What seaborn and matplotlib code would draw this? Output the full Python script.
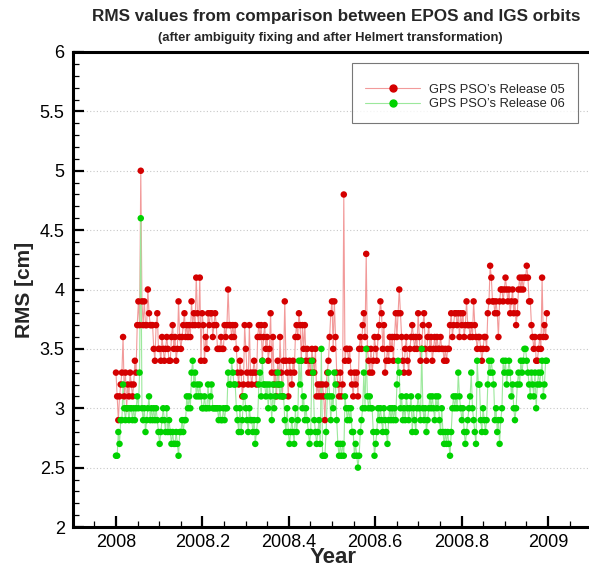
import numpy as np
import pandas as pd
import matplotlib
matplotlib.use("Agg")
import matplotlib.pyplot as plt
from matplotlib.lines import Line2D
from matplotlib.ticker import MultipleLocator
import seaborn as sns

# Daily RMS values [cm] for 2008, one list per month
rel05_jan = [3.3, 3.1, 2.9, 3.1, 3.2, 3.3, 3.6, 3.1, 3.3, 3.0, 3.2, 3.1, 3.3, 3.2, 3.1, 3.2,
             3.4, 3.3, 3.7, 3.9, 3.7, 5.0, 3.9, 3.7, 3.9, 3.7, 3.7, 4.0, 3.8, 3.7, 3.7]
rel05_feb = [3.7, 3.5, 3.4, 3.7, 3.8, 3.5, 3.5, 3.4, 3.6, 3.5, 3.4, 3.5, 3.6, 3.5, 3.4, 3.4,
             3.6, 3.7, 3.5, 3.6, 3.4, 3.5, 3.9, 3.6, 3.5, 3.6, 3.7, 3.8, 3.6]
rel05_mar = [3.7, 3.6, 3.7, 3.6, 3.9, 3.7, 3.8, 3.7, 4.1, 3.8, 3.7, 4.1, 3.4, 3.8, 3.7, 3.4,
             3.6, 3.5, 3.8, 3.7, 3.8, 3.8, 3.6, 3.7, 3.8, 3.7, 3.5, 3.5, 3.5, 3.6, 3.5]
rel05_apr = [3.5, 3.7, 3.6, 3.7, 4.0, 3.7, 3.7, 3.6, 3.7, 3.6, 3.7, 3.5, 3.3, 3.2, 3.4, 3.3,
             3.1, 3.2, 3.7, 3.5, 3.3, 3.2, 3.7, 3.3, 3.2, 3.3, 3.4, 3.3, 3.2, 3.6]
rel05_may = [3.7, 3.6, 3.7, 3.4, 3.6, 3.7, 3.5, 3.6, 3.4, 3.5, 3.8, 3.3, 3.6, 3.2, 3.3, 3.1,
             3.4, 3.2, 3.6, 3.3, 3.1, 3.4, 3.9, 3.4, 3.3, 3.1, 3.4, 3.3, 3.2, 3.4, 3.3]
rel05_jun = [3.6, 3.7, 3.6, 3.8, 3.7, 3.4, 3.7, 3.5, 3.7, 3.4, 3.5, 3.3, 3.4, 3.3, 3.5, 3.4,
             3.3, 3.5, 3.1, 3.2, 3.1, 3.2, 3.1, 3.2, 3.1, 2.9, 3.2, 3.3, 3.4, 3.6]
rel05_jul = [3.8, 3.9, 3.5, 3.9, 3.6, 3.3, 3.2, 3.1, 3.3, 3.1, 3.2, 4.8, 3.4, 3.5, 3.5, 3.4,
             3.5, 3.3, 3.2, 3.1, 3.3, 3.2, 3.3, 3.1, 3.5, 3.6, 3.5, 3.7, 3.8, 3.6, 4.3]
rel05_aug = [3.5, 3.4, 3.3, 3.5, 3.3, 3.4, 3.6, 3.5, 3.4, 3.6, 3.7, 3.9, 3.8, 3.5, 3.7, 3.3,
             3.4, 3.5, 3.4, 3.6, 3.5, 3.6, 3.4, 3.6, 3.8, 3.6, 3.8, 4.0, 3.8, 3.6, 3.4]
rel05_sep = [3.3, 3.5, 3.6, 3.4, 3.3, 3.5, 3.6, 3.7, 3.6, 3.5, 3.6, 3.5, 3.8, 3.6, 3.4, 3.5,
             3.7, 3.8, 3.5, 3.4, 3.6, 3.7, 3.5, 3.6, 3.4, 3.5, 3.6, 3.5, 3.6, 3.5]
rel05_oct = [3.5, 3.6, 3.5, 3.5, 3.4, 3.5, 3.4, 3.5, 3.5, 3.7, 3.8, 3.6, 3.7, 3.8, 3.8, 3.7,
             3.8, 3.6, 3.8, 3.7, 3.8, 3.6, 3.7, 3.9, 3.7, 3.7, 3.6, 3.7, 3.6, 3.9, 3.7]
rel05_nov = [3.6, 3.5, 3.6, 3.6, 3.5, 3.4, 3.5, 3.6, 3.6, 3.5, 3.8, 3.9, 4.2, 4.1, 3.9, 3.9,
             3.8, 3.9, 3.8, 3.6, 3.9, 4.0, 4.0, 3.9, 4.0, 4.1, 4.0, 3.9, 4.0, 3.8]
rel05_dec = [3.9, 4.0, 3.8, 3.9, 3.7, 3.8, 4.0, 4.1, 4.0, 4.1, 4.0, 4.1, 4.1, 4.2, 4.1, 3.9,
             3.9, 3.7, 3.6, 3.5, 3.6, 3.4, 3.4, 3.5, 3.6, 3.5, 4.1, 3.6, 3.7, 3.6, 3.8]

rel06_jan = [2.6, 2.6, 2.8, 2.7, 2.9, 2.9, 3.2, 3.0, 2.9, 3.0, 3.0, 2.9, 3.0, 3.0, 2.9, 3.0,
             2.9, 3.0, 3.1, 3.0, 3.3, 4.6, 3.0, 2.9, 3.0, 2.8, 2.9, 3.0, 3.1, 2.9, 3.0]
rel06_feb = [2.9, 3.0, 2.9, 3.0, 2.9, 2.8, 2.7, 2.8, 2.9, 3.0, 2.9, 2.8, 3.0, 2.8, 2.9, 2.8,
             2.7, 2.8, 2.7, 2.7, 2.8, 2.7, 2.6, 2.8, 2.8, 2.9, 2.8, 2.9, 2.9]
rel06_mar = [3.1, 3.0, 3.1, 3.0, 3.3, 3.4, 3.2, 3.3, 3.1, 3.2, 3.1, 3.2, 3.1, 3.0, 3.0, 3.1,
             3.0, 3.0, 3.2, 3.0, 3.1, 3.2, 3.0, 3.0, 3.0, 3.0, 3.0, 2.9, 3.0, 2.9, 2.9]
rel06_apr = [3.0, 2.9, 3.0, 3.0, 3.3, 3.2, 3.2, 3.4, 3.3, 3.2, 3.2, 3.0, 2.9, 2.8, 3.0, 2.8,
             2.9, 3.1, 3.1, 3.0, 2.9, 2.8, 3.0, 2.9, 2.9, 2.8, 2.9, 2.7, 2.8, 2.9]
rel06_may = [3.2, 3.3, 3.1, 3.4, 3.2, 3.2, 3.1, 3.2, 3.0, 3.2, 3.1, 2.9, 3.2, 3.0, 3.1, 3.2,
             3.3, 3.2, 3.1, 3.2, 3.1, 3.1, 2.9, 2.8, 3.0, 2.8, 2.7, 2.8, 2.9, 2.8, 2.7]
rel06_jun = [3.0, 2.8, 2.9, 3.4, 3.2, 3.4, 3.0, 3.1, 2.9, 3.0, 2.9, 2.8, 2.7, 2.8, 3.4, 3.3,
             2.9, 2.8, 2.7, 2.8, 2.9, 2.7, 3.5, 2.6, 2.6, 2.6, 2.8, 3.1, 3.3, 3.1]
rel06_jul = [2.9, 3.1, 3.0, 3.3, 3.2, 2.9, 2.7, 2.6, 2.7, 2.6, 2.7, 2.6, 3.1, 3.0, 2.9, 3.0,
             2.9, 3.0, 2.8, 2.8, 2.6, 2.7, 2.6, 2.5, 2.6, 2.8, 2.9, 3.0, 3.3, 3.0, 3.5]
rel06_aug = [3.1, 3.0, 3.1, 3.0, 3.0, 2.8, 2.6, 2.7, 2.8, 3.0, 2.9, 3.0, 2.9, 2.8, 3.0, 2.9,
             2.8, 2.7, 2.9, 3.0, 2.9, 3.0, 2.9, 3.0, 2.9, 3.2, 3.4, 3.3, 3.0, 3.1, 2.9]
rel06_sep = [3.0, 2.9, 3.1, 3.0, 2.9, 3.0, 3.1, 2.8, 3.0, 2.9, 2.8, 3.0, 3.1, 3.0, 2.9, 3.5,
             3.0, 2.9, 3.0, 2.8, 2.9, 3.0, 3.1, 3.0, 3.1, 3.0, 2.9, 3.1, 3.0, 3.1]
rel06_oct = [2.9, 2.8, 3.0, 2.8, 2.7, 2.8, 2.7, 2.8, 2.7, 2.6, 2.8, 3.0, 3.1, 3.0, 3.1, 3.0,
             3.3, 3.1, 3.0, 2.9, 3.0, 2.8, 2.7, 2.8, 2.9, 3.0, 3.1, 3.3, 3.0, 2.9, 2.8]
rel06_nov = [2.7, 3.4, 3.2, 3.2, 2.9, 2.8, 3.0, 2.9, 2.8, 2.9, 3.2, 3.4, 3.3, 3.4, 3.3, 3.2,
             2.9, 3.0, 2.8, 2.9, 2.7, 2.9, 3.0, 3.4, 3.3, 3.4, 3.2, 3.3, 3.4, 3.3]
rel06_dec = [3.1, 3.2, 3.0, 2.9, 3.0, 3.2, 3.3, 3.2, 3.4, 3.3, 3.4, 3.5, 3.5, 3.4, 3.3, 3.2,
             3.1, 3.3, 3.2, 3.1, 3.3, 3.0, 3.2, 3.3, 3.2, 3.3, 3.4, 3.1, 3.2, 3.4, 3.4]

series_names = ["GPS PSO\u2019s Release 05", "GPS PSO\u2019s Release 06"]
x_ticks = [2008, 2008.2, 2008.4, 2008.6, 2008.8, 2009]
x_tick_labels = ["2008", "2008.2", "2008.4", "2008.6", "2008.8", "2009"]
y_ticks = [2, 2.5, 3, 3.5, 4, 4.5, 5, 5.5, 6]
y_tick_labels = ["2", "2.5", "3", "3.5", "4", "4.5", "5", "5.5", "6"]

rel05 = sum([rel05_jan, rel05_feb, rel05_mar, rel05_apr, rel05_may, rel05_jun,
             rel05_jul, rel05_aug, rel05_sep, rel05_oct, rel05_nov, rel05_dec], [])
rel06 = sum([rel06_jan, rel06_feb, rel06_mar, rel06_apr, rel06_may, rel06_jun,
             rel06_jul, rel06_aug, rel06_sep, rel06_oct, rel06_nov, rel06_dec], [])

year = 2008 + np.arange(len(rel05)) / 366.0
df = pd.DataFrame({
    "year": np.concatenate([year, year]),
    "rms": rel05 + rel06,
    "series": [series_names[0]] * len(rel05) + [series_names[1]] * len(rel06),
})

sns.set_style("ticks")
plt.rcParams["font.family"] = ["Liberation Sans", "DejaVu Sans"]

line_colors = {series_names[0]: "#f29a9a", series_names[1]: "#9ce89c"}
mark_colors = {series_names[0]: "#d40000", series_names[1]: "#00d200"}

fig = plt.figure(figsize=(5.89, 5.69), dpi=100)
# the plot frame runs past the right edge of the canvas
ax = fig.add_axes([73 / 589, 1 - 527 / 569, 521 / 589, 475 / 569])

for name in series_names:
    sub = df[df["series"] == name]
    sns.lineplot(data=sub, x="year", y="rms", color=line_colors[name], lw=0.8,
                 ax=ax, legend=False, zorder=2)
    sns.scatterplot(data=sub, x="year", y="rms", color=mark_colors[name], s=22,
                    edgecolor="none", ax=ax, legend=False, zorder=3)

ax.set_xlim(2007.9005, 2009.1065)
ax.set_ylim(2, 6)
ax.set_xticks(x_ticks)
ax.set_xticklabels(x_tick_labels)
ax.set_yticks(y_ticks)
ax.set_yticklabels(y_tick_labels)
ax.xaxis.set_minor_locator(MultipleLocator(0.05))
ax.yaxis.set_minor_locator(MultipleLocator(0.1))
ax.tick_params(which="both", direction="in", top=False, right=False, colors="black",
               labelsize=13)
ax.tick_params(which="major", length=8, width=1.6)
ax.tick_params(which="minor", length=4, width=0.9)
ax.tick_params(axis="x", pad=5)
ax.tick_params(axis="y", pad=6)
for side in ["left", "bottom", "top", "right"]:
    ax.spines[side].set_linewidth(2.2)
    ax.spines[side].set_color("black")
ax.yaxis.grid(True, which="major", linestyle=(0, (1, 2)), color="#c8c8c8", lw=0.8)
ax.set_axisbelow(True)

ax.set_xlabel("Year", fontsize=16, fontweight="bold", labelpad=-3)
ax.set_ylabel("RMS [cm]", fontsize=15, fontweight="bold", labelpad=4)

fig.text(336 / 589, 1 - 16 / 569, "RMS values from comparison between EPOS and IGS orbits",
         ha="center", va="center", fontsize=12.3, fontweight="bold")
fig.text(330 / 589, 1 - 38 / 569, "(after ambiguity fixing and after Helmert transformation)",
         ha="center", va="center", fontsize=9.4, fontweight="bold")

handles = [Line2D([], [], color=line_colors[n], lw=0.8, marker="o", markersize=5,
                  markerfacecolor=mark_colors[n], markeredgecolor=mark_colors[n])
           for n in series_names]
leg = ax.legend(handles, series_names, loc="upper right",
                bbox_to_anchor=((578 - 73) / 521, (527 - 63) / 475), borderaxespad=0,
                frameon=True, fancybox=False, edgecolor="#555555", fontsize=9.3,
                handlelength=4.2, handletextpad=0.75, borderpad=1.0, labelspacing=0.2,
                title=" ", title_fontsize=4)
leg.get_frame().set_linewidth(0.8)

fig.savefig("out.png", dpi=100)
